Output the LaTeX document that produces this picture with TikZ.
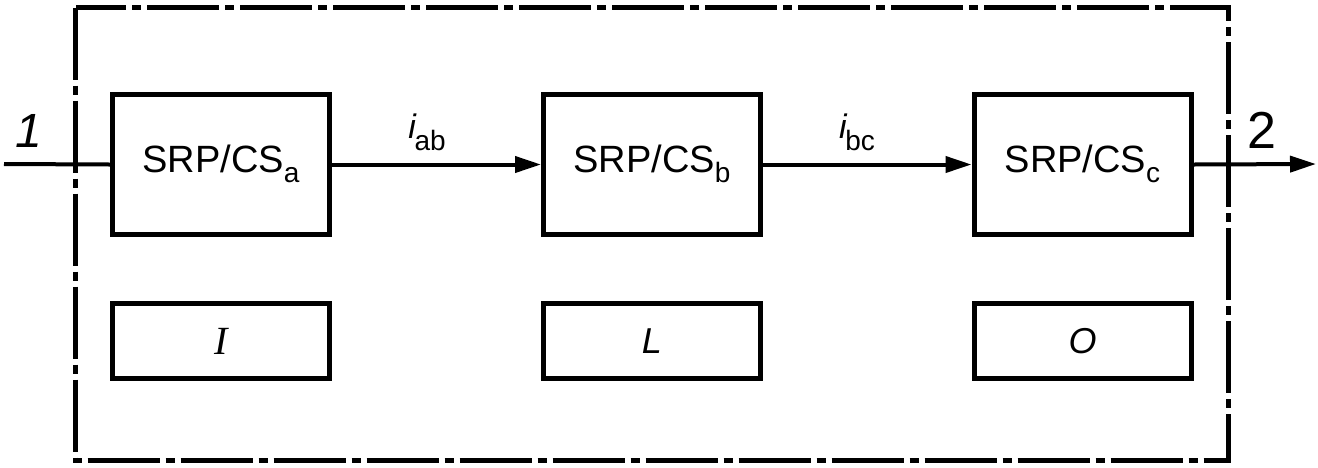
\documentclass[tikz,border=0pt]{standalone}
\usepackage{fontspec}
\setmainfont{Liberation Sans}
\newfontfamily\serifit{Liberation Serif}
\usetikzlibrary{arrows.meta}
\tikzset{
  blk/.style={draw, line width=5pt, minimum width=217pt, minimum height=140pt, inner sep=0pt,
    text height=28pt, text depth=13pt, font=\fontsize{38}{40}\selectfont},
  sblk/.style={draw, line width=5pt, minimum width=217pt, minimum height=75pt, inner sep=0pt},
  conn/.style={line width=4pt, -{Triangle[length=26pt,width=16pt]}},
  plain/.style={line width=4pt},
  frame/.style={line width=5pt, dash pattern=on 72pt off 6pt on 9pt off 6pt},
  lbl/.style={inner sep=0pt, anchor=base}
}
\newcommand{\sbs}[1]{\raisebox{-10pt}{\fontsize{28}{30}\selectfont #1}}
\newcommand{\isub}[1]{\textit{\fontsize{34}{36}\selectfont i}\kern-2pt\raisebox{-12pt}{\fontsize{28}{30}\selectfont #1}}
\begin{document}
\begin{tikzpicture}[x=1pt,y=-1pt]
\useasboundingbox (0,0) rectangle (1318,467);
\draw[frame] (75.5,7.5) rectangle (1228.5,460.5);
\node[blk] (a) at (221,164.5) {SRP/CS\sbs{a}};
\node[blk] (b) at (652,164.5) {SRP/CS\sbs{b}};
\node[blk] (c) at (1082.5,164.5) {SRP/CS\sbs{c}};
\node[sblk, font=\serifit\itshape\fontsize{40}{42}\selectfont] (i) at (221,341) {I};
\node[sblk, font=\itshape\fontsize{36}{38}\selectfont] (l) at (652,341) {L};
\node[sblk, font=\itshape\fontsize{36}{38}\selectfont] (o) at (1082.5,341) {O};
\coordinate (in) at (4,164);
\coordinate (out) at (1316,164);
\draw[plain] (in) -- (a.west);
\draw[conn] (a.east) -- (b.west);
\draw[conn] (b.east) -- (c.west);
\draw[conn] (c.east) -- (out);
\node[lbl, font=\itshape\fontsize{48}{50}\selectfont] (n1) at (29,147) {1};
\node[lbl, font=\fontsize{52}{54}\selectfont] (n2) at (1262,148) {2};
\node[lbl] (iab) at (427,138) {\isub{ab}};
\node[lbl] (ibc) at (857,138) {\isub{bc}};
\end{tikzpicture}
\end{document}
